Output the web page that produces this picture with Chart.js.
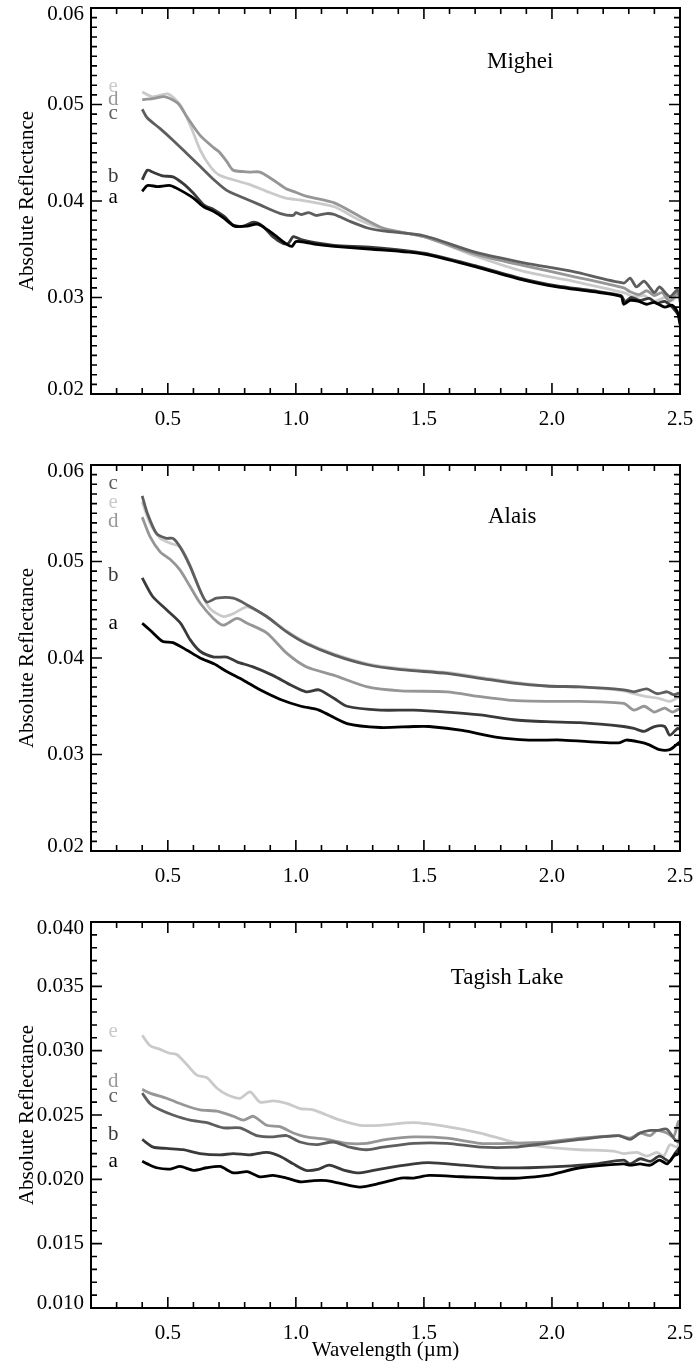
<!DOCTYPE html>
<html>
<head>
<meta charset="utf-8">
<script src="https://cdn.jsdelivr.net/npm/chart.js@4.4.1/dist/chart.umd.min.js"></script>
<style>
  html, body { margin: 0; padding: 0; background: #fff; }
  #wrap { position: relative; width: 696px; height: 1363px; }
  canvas { position: absolute; left: 0; }
</style>
</head>
<body>
<div id="wrap">
  <canvas id="mighei" width="696" height="440" style="top:0px"></canvas>
  <canvas id="alais" width="696" height="470" style="top:440px"></canvas>
  <canvas id="tagish" width="696" height="483" style="top:880px"></canvas>
</div>
<script>
// spectra: [wavelength (um), absolute reflectance]
const seriesNames = ['a', 'b', 'c', 'd', 'e'];

const mighA = [[0.40,0.0410],[0.42,0.0416],[0.46,0.0415],[0.51,0.0416],[0.55,0.0411],[0.60,0.0403],[0.64,0.0394],[0.68,0.0389],[0.72,0.0382],[0.76,0.0374],[0.81,0.0374],[0.85,0.0376],[0.89,0.0370],[0.93,0.0362],[0.965,0.0355],[0.985,0.0353],[1.00,0.0358],[1.04,0.0357],[1.08,0.0355],[1.15,0.0353],[1.30,0.0350],[1.50,0.0345],[1.70,0.0332],[1.89,0.0318],[2.02,0.0311],[2.16,0.0306],[2.27,0.0301],[2.28,0.0293],[2.305,0.0297],[2.34,0.0296],[2.37,0.0293],[2.40,0.0295],[2.44,0.0290],[2.47,0.0292],[2.49,0.0285],[2.50,0.0272]];
const mighB = [[0.40,0.0422],[0.42,0.0432],[0.44,0.0430],[0.48,0.0426],[0.52,0.0425],[0.56,0.0418],[0.60,0.0408],[0.64,0.0396],[0.68,0.0391],[0.72,0.0384],[0.755,0.0375],[0.795,0.0374],[0.835,0.0378],[0.87,0.0374],[0.91,0.0363],[0.95,0.0356],[0.97,0.0356],[0.99,0.0363],[1.02,0.0360],[1.07,0.0357],[1.15,0.0354],[1.30,0.0352],[1.50,0.0346],[1.70,0.0333],[1.89,0.0319],[2.02,0.0312],[2.16,0.0307],[2.27,0.0302],[2.285,0.0296],[2.31,0.0300],[2.345,0.0297],[2.38,0.0299],[2.41,0.0294],[2.44,0.0296],[2.47,0.0290],[2.50,0.0280]];
const mighC = [[0.40,0.0495],[0.42,0.0486],[0.47,0.0475],[0.52,0.0463],[0.575,0.0449],[0.626,0.0436],[0.68,0.0422],[0.73,0.0411],[0.78,0.0405],[0.86,0.0396],[0.94,0.0387],[0.99,0.0385],[1.00,0.0388],[1.02,0.0386],[1.05,0.0388],[1.08,0.0385],[1.12,0.0387],[1.15,0.0386],[1.21,0.0379],[1.28,0.0372],[1.34,0.0369],[1.50,0.0364],[1.70,0.0347],[1.89,0.0336],[2.08,0.0327],[2.28,0.0315],[2.305,0.0320],[2.33,0.0311],[2.36,0.0317],[2.40,0.0305],[2.42,0.0311],[2.46,0.0301],[2.49,0.0308],[2.50,0.0300]];
const mighD = [[0.40,0.0505],[0.44,0.0506],[0.49,0.0508],[0.54,0.0501],[0.575,0.0487],[0.626,0.0468],[0.68,0.0455],[0.70,0.0451],[0.73,0.0441],[0.755,0.0432],[0.82,0.0430],[0.86,0.0430],[0.91,0.0422],[0.96,0.0413],[0.99,0.0410],[1.04,0.0405],[1.15,0.0398],[1.25,0.0384],[1.34,0.0372],[1.50,0.0363],[1.70,0.0345],[1.89,0.0333],[2.08,0.0322],[2.28,0.0310],[2.305,0.0306],[2.34,0.0303],[2.37,0.0307],[2.40,0.0302],[2.43,0.0305],[2.46,0.0296],[2.49,0.0305],[2.50,0.0295]];
const mighE = [[0.40,0.0513],[0.44,0.0508],[0.50,0.0511],[0.55,0.0499],[0.59,0.0477],[0.626,0.0453],[0.665,0.0436],[0.70,0.0427],[0.755,0.0422],[0.82,0.0417],[0.886,0.0410],[0.96,0.0403],[1.02,0.0401],[1.15,0.0394],[1.25,0.0380],[1.34,0.0371],[1.50,0.0363],[1.70,0.0343],[1.89,0.0327],[2.08,0.0317],[2.28,0.0305],[2.32,0.0301],[2.36,0.0302],[2.40,0.0296],[2.44,0.0300],[2.47,0.0297],[2.50,0.0306]];

const alaisA = [[0.40,0.0436],[0.43,0.0429],[0.48,0.0417],[0.52,0.0416],[0.575,0.0408],[0.626,0.0400],[0.68,0.0394],[0.73,0.0386],[0.795,0.0377],[0.86,0.0367],[0.94,0.0357],[1.02,0.0350],[1.09,0.0346],[1.20,0.0332],[1.33,0.0328],[1.46,0.0329],[1.52,0.0329],[1.65,0.0325],[1.78,0.0318],[1.91,0.0315],[2.04,0.0315],[2.26,0.0312],[2.29,0.0315],[2.34,0.0313],[2.38,0.0310],[2.42,0.0305],[2.46,0.0305],[2.49,0.0311],[2.50,0.0313]];
const alaisB = [[0.40,0.0483],[0.44,0.0464],[0.495,0.0450],[0.55,0.0436],[0.587,0.0419],[0.626,0.0407],[0.68,0.0401],[0.73,0.0401],[0.77,0.0396],[0.83,0.0391],[0.91,0.0382],[0.98,0.0372],[1.04,0.0365],[1.09,0.0367],[1.15,0.0358],[1.20,0.0350],[1.33,0.0346],[1.46,0.0346],[1.59,0.0344],[1.72,0.0341],[1.85,0.0336],[1.98,0.0334],[2.11,0.0333],[2.28,0.0329],[2.32,0.0327],[2.36,0.0324],[2.40,0.0329],[2.44,0.0329],[2.46,0.0320],[2.49,0.0327],[2.50,0.0326]];
const alaisC = [[0.40,0.0568],[0.42,0.0550],[0.456,0.0529],[0.495,0.0524],[0.52,0.0524],[0.548,0.0515],[0.587,0.0495],[0.626,0.0470],[0.652,0.0458],[0.69,0.0462],[0.756,0.0462],[0.81,0.0455],[0.886,0.0443],[0.964,0.0427],[1.04,0.0415],[1.15,0.0403],[1.28,0.0393],[1.41,0.0388],[1.59,0.0384],[1.72,0.0379],[1.85,0.0374],[1.98,0.0371],[2.11,0.0370],[2.28,0.0367],[2.32,0.0365],[2.37,0.0368],[2.41,0.0363],[2.45,0.0365],[2.475,0.0362],[2.50,0.0364]];
const alaisD = [[0.40,0.0546],[0.43,0.0526],[0.47,0.0510],[0.51,0.0502],[0.548,0.0491],[0.587,0.0474],[0.626,0.0457],[0.678,0.0441],[0.717,0.0434],[0.77,0.0441],[0.81,0.0436],[0.886,0.0426],[0.964,0.0405],[1.04,0.0391],[1.15,0.0382],[1.28,0.0370],[1.41,0.0366],[1.59,0.0365],[1.72,0.0360],[1.85,0.0356],[1.98,0.0355],[2.11,0.0355],[2.28,0.0353],[2.32,0.0346],[2.36,0.0350],[2.40,0.0344],[2.44,0.0348],[2.47,0.0344],[2.50,0.0348]];
const alaisE = [[0.40,0.0562],[0.43,0.0540],[0.47,0.0524],[0.51,0.0519],[0.548,0.0515],[0.587,0.0496],[0.626,0.0470],[0.665,0.0451],[0.717,0.0443],[0.756,0.0446],[0.81,0.0453],[0.886,0.0443],[0.964,0.0428],[1.04,0.0416],[1.15,0.0404],[1.28,0.0394],[1.41,0.0389],[1.59,0.0385],[1.72,0.0380],[1.85,0.0375],[1.98,0.0371],[2.11,0.0370],[2.28,0.0366],[2.32,0.0363],[2.37,0.0360],[2.42,0.0358],[2.46,0.0355],[2.50,0.0360]];

const tagishA = [[0.40,0.0214],[0.42,0.0212],[0.456,0.0209],[0.51,0.0208],[0.548,0.0210],[0.60,0.0207],[0.652,0.0209],[0.704,0.0210],[0.756,0.0205],[0.81,0.0206],[0.86,0.0202],[0.91,0.0203],[0.964,0.0201],[1.02,0.0198],[1.07,0.0199],[1.12,0.0199],[1.17,0.0197],[1.25,0.0194],[1.33,0.0197],[1.41,0.0201],[1.46,0.0201],[1.52,0.0203],[1.65,0.0202],[1.78,0.0201],[1.87,0.0201],[1.98,0.0203],[2.11,0.0209],[2.28,0.0212],[2.305,0.0211],[2.344,0.0212],[2.384,0.0211],[2.42,0.0215],[2.45,0.0212],[2.475,0.0218],[2.494,0.0220],[2.50,0.0225]];
const tagishB = [[0.40,0.0231],[0.443,0.0225],[0.495,0.0224],[0.56,0.0223],[0.626,0.0220],[0.704,0.0219],[0.756,0.0220],[0.82,0.0219],[0.886,0.0221],[0.938,0.0218],[0.99,0.0212],[1.04,0.0207],[1.09,0.0208],[1.13,0.0211],[1.19,0.0207],[1.25,0.0205],[1.33,0.0208],[1.46,0.0212],[1.52,0.0213],[1.65,0.0211],[1.78,0.0209],[1.91,0.0209],[2.04,0.0210],[2.17,0.0212],[2.28,0.0215],[2.305,0.0212],[2.344,0.0216],[2.384,0.0214],[2.42,0.0218],[2.46,0.0214],[2.48,0.0220],[2.50,0.0225]];
const tagishC = [[0.40,0.0267],[0.43,0.0259],[0.47,0.0254],[0.52,0.0250],[0.587,0.0246],[0.652,0.0244],[0.717,0.0240],[0.782,0.0240],[0.847,0.0234],[0.912,0.0233],[0.964,0.0234],[1.016,0.0229],[1.08,0.0227],[1.147,0.0229],[1.21,0.0225],[1.277,0.0223],[1.34,0.0225],[1.46,0.0228],[1.59,0.0228],[1.72,0.0225],[1.85,0.0225],[1.98,0.0228],[2.11,0.0231],[2.26,0.0234],[2.305,0.0231],[2.344,0.0236],[2.384,0.0238],[2.41,0.0238],[2.449,0.0239],[2.475,0.0232],[2.494,0.0229],[2.50,0.0240]];
const tagishD = [[0.40,0.0270],[0.43,0.0267],[0.495,0.0263],[0.56,0.0258],[0.626,0.0254],[0.691,0.0253],[0.756,0.0249],[0.795,0.0246],[0.834,0.0249],[0.886,0.0242],[0.938,0.0241],[0.99,0.0236],[1.04,0.0233],[1.12,0.0231],[1.20,0.0228],[1.277,0.0228],[1.355,0.0231],[1.46,0.0233],[1.59,0.0232],[1.72,0.0228],[1.85,0.0228],[1.98,0.0229],[2.11,0.0232],[2.26,0.0234],[2.305,0.0232],[2.344,0.0236],[2.384,0.0234],[2.41,0.0238],[2.449,0.0236],[2.475,0.0233],[2.494,0.0245],[2.50,0.0236]];
const tagishE = [[0.40,0.0312],[0.43,0.0304],[0.47,0.0301],[0.508,0.0298],[0.535,0.0297],[0.575,0.0289],[0.613,0.0281],[0.652,0.0279],[0.691,0.0271],[0.73,0.0266],[0.782,0.0263],[0.821,0.0268],[0.86,0.0260],[0.912,0.0261],[0.964,0.0259],[1.016,0.0255],[1.068,0.0254],[1.12,0.0250],[1.173,0.0246],[1.25,0.0242],[1.33,0.0242],[1.46,0.0244],[1.59,0.0241],[1.72,0.0236],[1.85,0.0229],[1.98,0.0225],[2.11,0.0223],[2.24,0.0222],[2.28,0.0220],[2.332,0.0221],[2.371,0.0218],[2.41,0.0221],[2.436,0.0218],[2.461,0.0227],[2.488,0.0225],[2.50,0.0230]];

// where the a-e letters sit (reflectance), in a..e order
const mighLetterY = [0.0404, 0.0425, 0.0491, 0.05055, 0.0519];
const alaisLetterY = [0.0436, 0.0486, 0.0581, 0.0541, 0.0561];
const tagishLetterY = [0.02137, 0.02345, 0.02642, 0.02759, 0.03147];

const serif = "'Liberation Serif', 'Times New Roman', serif";
const seriesColors = ['#000000', '#3a3a3a', '#5e5e5e', '#969696', '#cacaca'];

// IDL style frame: box round the plot, ticks pointing inward on all four sides
const frameTicks = {
    id: 'frameTicks',
    beforeDraw(chart) {
        // IDL nudges the end labels inside the axis range
        const opts = chart.options.plugins.frameTicks;
        chart.scales.y.getLabelItems().forEach(it => {
            if (it._nudged) return;
            if (it.label === opts.topLabel) it.options.translation[1] += 6;
            if (it.label === opts.bottomLabel) it.options.translation[1] -= 5;
            it._nudged = true;
        });
    },
    afterDraw(chart) {
        const {ctx, chartArea: ca, scales: {x, y}} = chart;
        const opts = chart.options.plugins.frameTicks;
        ctx.save();
        ctx.strokeStyle = '#000';
        ctx.lineWidth = 1.6;
        ctx.beginPath();
        x.ticks.forEach(t => {
            const px = x.getPixelForValue(t.value);
            const len = t.label ? 11 : 6;
            ctx.moveTo(px, ca.bottom); ctx.lineTo(px, ca.bottom - len);
            ctx.moveTo(px, ca.top); ctx.lineTo(px, ca.top + len);
        });
        y.ticks.forEach(t => {
            const py = y.getPixelForValue(t.value);
            const len = t.label ? 11 : 6;
            ctx.moveTo(ca.left, py); ctx.lineTo(ca.left + len, py);
            ctx.moveTo(ca.right, py); ctx.lineTo(ca.right - len, py);
        });
        ctx.stroke();
        ctx.lineWidth = 2;
        ctx.strokeRect(ca.left, ca.top, ca.width, ca.height);

        ctx.textAlign = 'center';
        ctx.textBaseline = 'middle';
        ctx.fillStyle = '#000';
        ctx.font = '23px ' + serif;
        ctx.fillText(opts.name, x.getPixelForValue(opts.nameAt[0]), y.getPixelForValue(opts.nameAt[1]));

        ctx.font = '21px ' + serif;
        chart.data.datasets.forEach((ds, i) => {
            ctx.fillStyle = ds.borderColor;
            ctx.fillText(ds.label, x.getPixelForValue(0.287), y.getPixelForValue(opts.letterY[i]));
        });
        ctx.restore();
    }
};

function makePanel(id, series, o) {
    const datasets = series.map((d, i) => ({
        label: seriesNames[i],
        data: d,
        borderColor: seriesColors[i],
        borderWidth: 2.8,
        pointRadius: 0,
        tension: 0.25,
        fill: false
    }));
    return new Chart(document.getElementById(id), {
        type: 'line',
        data: {datasets},
        plugins: [frameTicks],
        options: {
            responsive: false,
            animation: false,
            devicePixelRatio: 1,
            layout: {padding: {top: o.padTop, right: 16, left: 0, bottom: 0}},
            plugins: {
                legend: {display: false},
                tooltip: {enabled: false},
                frameTicks: {
                    name: o.name, nameAt: o.nameAt, letterY: o.letterY,
                    topLabel: o.yMax.toFixed(o.yDigits), bottomLabel: o.yMin.toFixed(o.yDigits)
                }
            },
            scales: {
                x: {
                    type: 'linear',
                    min: 0.2,
                    max: 2.5,
                    grid: {display: false, drawTicks: false},
                    border: {display: false},
                    afterBuildTicks: (s) => {
                        s.ticks = [];
                        for (let i = 0; i <= 23; i++) s.ticks.push({value: +(0.2 + i * 0.1).toFixed(1)});
                    },
                    afterFit: (s) => { s.height = o.xHeight; s.paddingLeft = 0; s.paddingRight = 0; },
                    ticks: {
                        autoSkip: false,
                        maxRotation: 0,
                        padding: 13,
                        color: '#000',
                        font: {family: serif, size: 21},
                        callback: (v) => (Math.abs(v * 2 - Math.round(v * 2)) < 1e-6 ? v.toFixed(1) : '')
                    },
                    title: {
                        display: !!o.xTitle,
                        text: o.xTitle || '',
                        color: '#000',
                        font: {family: serif, size: 21},
                        padding: {top: 0, bottom: 0}
                    }
                },
                y: {
                    type: 'linear',
                    min: o.yMin,
                    max: o.yMax,
                    grid: {display: false, drawTicks: false},
                    border: {display: false},
                    afterBuildTicks: (s) => {
                        s.ticks = [];
                        const n = Math.round((o.yMax - o.yMin) / 0.001);
                        for (let i = 0; i <= n; i++) s.ticks.push({value: +(o.yMin + i * 0.001).toFixed(3)});
                    },
                    afterFit: (s) => { s.width = 91; s.paddingTop = 0; s.paddingBottom = 0; },
                    ticks: {
                        autoSkip: false,
                        padding: 7,
                        color: '#000',
                        font: {family: serif, size: 21},
                        callback: (v) => {
                            const k = v / o.yMajor;
                            return Math.abs(k - Math.round(k)) < 1e-6 ? v.toFixed(o.yDigits) : '';
                        }
                    },
                    title: {
                        display: true,
                        text: 'Absolute Reflectance',
                        color: '#000',
                        font: {family: serif, size: 21},
                        padding: {top: 15, bottom: 0}
                    }
                }
            }
        }
    });
}

makePanel('mighei', [mighA, mighB, mighC, mighD, mighE], {
    name: 'Mighei', nameAt: [1.876, 0.05438], letterY: mighLetterY,
    yMin: 0.02, yMax: 0.06, yMajor: 0.01, yDigits: 2, padTop: 8, xHeight: 46
});
makePanel('alais', [alaisA, alaisB, alaisC, alaisD, alaisE], {
    name: 'Alais', nameAt: [1.845, 0.05461], letterY: alaisLetterY,
    yMin: 0.02, yMax: 0.06, yMajor: 0.01, yDigits: 2, padTop: 25, xHeight: 59
});
makePanel('tagish', [tagishA, tagishB, tagishC, tagishD, tagishE], {
    name: 'Tagish Lake', nameAt: [1.825, 0.03565], letterY: tagishLetterY,
    yMin: 0.01, yMax: 0.04, yMajor: 0.005, yDigits: 3, padTop: 42, xHeight: 55,
    xTitle: 'Wavelength (\u00b5m)'
});
</script>
</body>
</html>
